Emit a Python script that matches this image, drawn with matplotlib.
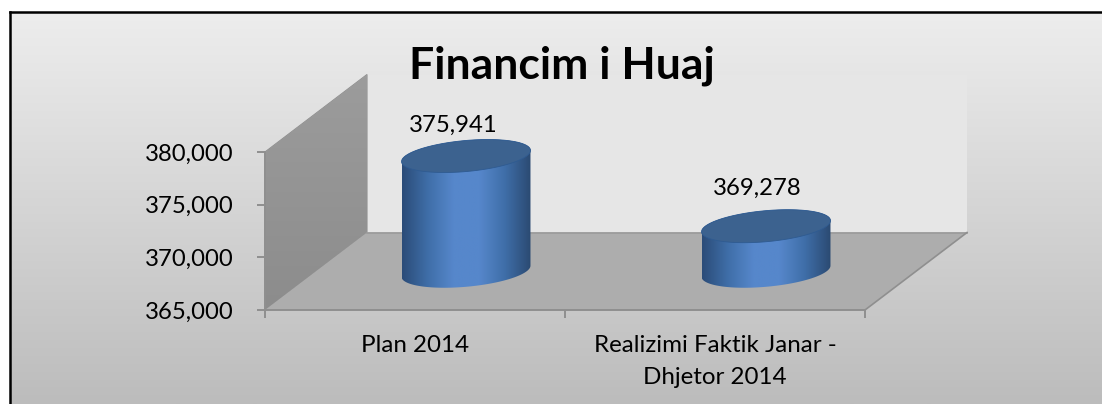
import numpy as np
import matplotlib
matplotlib.use('Agg')
import matplotlib.pyplot as plt
from matplotlib.patches import Polygon, Rectangle
from matplotlib.colors import LinearSegmentedColormap

categories = ["Plan 2014", "Realizimi Faktik Janar -\nDhjetor 2014"]
values = [375941, 369278]
value_labels = ["375,941", "369,278"]
yticks = [365000, 370000, 375000, 380000]
ytick_labels = ["365,000", "370,000", "375,000", "380,000"]

W, H = 1102, 404
plt.rcParams['font.family'] = ['Lato', 'DejaVu Sans']

fig = plt.figure(figsize=(W/100, H/100), dpi=100)

# background, whole figure in pixels
bg = fig.add_axes([0, 0, 1, 1])
bg.axis('off')
bg_cmap = LinearSegmentedColormap.from_list('bg', [(0, '#ededed'), (0.15, '#e6e6e6'), (1, '#bcbcbc')])
bg.imshow(np.linspace(0, 1, 256).reshape(-1, 1), cmap=bg_cmap, aspect='auto',
          extent=(10, W, H, 12), zorder=0)
bg.set_xlim(0, W)
bg.set_ylim(H, 0)
bg.plot([10, 10], [H, 12], color='black', lw=1.8, solid_capstyle='projecting')
bg.plot([10, W], [12, 12], color='black', lw=1.8, solid_capstyle='projecting')

# front plane of the 3d box = the real axes
ax = fig.add_axes([265/W, 1-310/H, 600/W, 158/H])
ax.patch.set_alpha(0)
ax.set_xlim(0, 2)
ax.set_ylim(365000, 380000)
for s in ['top', 'right']:
    ax.spines[s].set_visible(False)
for s in ['left', 'bottom']:
    ax.spines[s].set_color('#8f8f8f')
    ax.spines[s].set_linewidth(1.4)

depth_x = 102/300
depth_y = 77.5/158*15000
y0, y1 = 365000, 380000

# back wall, side wall, floor
ax.add_patch(Rectangle((depth_x, y0+depth_y), 2, y1-y0, fc='#e6e6e6', ec='none', clip_on=False, zorder=1))
side = Polygon([(0, y0), (depth_x, y0+depth_y), (depth_x, y1+depth_y), (0, y1)], fc='none', ec='#8f8f8f', lw=0.8, clip_on=False, zorder=2)
ax.add_patch(side)
side_cmap = LinearSegmentedColormap.from_list('side', ['#9c9c9c', '#8c8c8c'])
side_img = ax.imshow(np.linspace(0, 1, 64).reshape(-1, 1), cmap=side_cmap, aspect='auto',
                     extent=(0, depth_x, y0, y1+depth_y), zorder=2)
side_img.set_clip_path(side)
side_img.set_clip_box(fig.bbox)
floor = Polygon([(0, y0), (2, y0), (2+depth_x, y0+depth_y), (depth_x, y0+depth_y)], fc='#adadad', ec='none', clip_on=False, zorder=2)
ax.add_patch(floor)
ax.plot([depth_x, 2+depth_x], [y0+depth_y]*2, color='#9a9a9a', lw=1.2, clip_on=False, zorder=2)
ax.plot([2, 2+depth_x], [y0, y0+depth_y], color='#8f8f8f', lw=1.2, clip_on=False, zorder=2)

t = np.linspace(0, 2*np.pi, 181)
cyl_cmap = LinearSegmentedColormap.from_list('cyl', ['#2b4c78', '#3f6ea8', '#5687cb', '#5687cb', '#3f6ea8', '#2b4a72'])
ru = 60.7/300
rv = 0.213
label_dx = [-12.5/300, -8.5/300]
label_gap = [300, 1050]


def ring(cx, base):
    px = cx + ru*np.cos(t) + rv*depth_x*np.sin(t)
    py = base + rv*depth_y*np.sin(t)
    return px, py


for i, v in enumerate(values):
    cx = i + 0.5 + depth_x/2
    cy = y0 + depth_y/2
    bx, by = ring(cx, cy)
    tx, ty = ring(cx, cy + v - y0)
    # outline: lower arc of the base ring, then back over the top ring
    il, ir = bx.argmin(), bx.argmax()
    idx_low = np.arange(il, ir+1) if il < ir else np.r_[np.arange(il, len(t)), np.arange(0, ir+1)]
    arc_b = np.column_stack([bx[idx_low], by[idx_low]])
    tl, tr = tx.argmin(), tx.argmax()
    idx_up = np.r_[np.arange(tr, len(t)), np.arange(0, tl+1)] if tr > tl else np.arange(tr, tl+1)
    arc_t = np.column_stack([tx[idx_up], ty[idx_up]])
    outline = np.vstack([arc_b, arc_t, arc_b[:1]])
    grad = ax.imshow(np.linspace(0, 1, 256).reshape(1, -1), cmap=cyl_cmap, aspect='auto',
                     extent=(bx.min(), bx.max(), y0-2000, y1+2000), zorder=3)
    clip = Polygon(outline, transform=ax.transData, fc='none', ec='none')
    ax.add_patch(clip)
    clip.set_clip_on(False)
    grad.set_clip_path(clip)
    grad.set_clip_box(fig.bbox)
    ax.add_patch(Polygon(np.column_stack([tx, ty]), fc='#3c628f', ec='#2f5b91', lw=0.6, clip_on=False, zorder=4))
    ax.text(cx + label_dx[i], ty.max() + label_gap[i], value_labels[i], ha='center', va='bottom',
            fontsize=17.2, color='black', zorder=6)

ax.set_xlim(0, 2)
ax.set_ylim(365000, 380000)

ax.set_yticks(yticks)
ax.set_yticklabels(ytick_labels, fontsize=17.2)
ax.set_xticks([0, 1, 2])
ax.set_xticklabels([])
ax.set_xticks([0.5, 1.5], minor=True)
ax.set_xticklabels(categories, minor=True, fontsize=17.4, linespacing=1.65)
ax.tick_params(axis='both', which='major', color='#8f8f8f', length=6, width=1.4)
ax.tick_params(axis='y', pad=16.3)
ax.tick_params(axis='x', which='minor', length=0, pad=17.7)

fig.text(562/W, 1-78/H, "Financim i Huaj", ha='center', va='baseline', fontsize=32, fontweight='bold', color='black', zorder=8)

fig.savefig('out.png', dpi=100)
